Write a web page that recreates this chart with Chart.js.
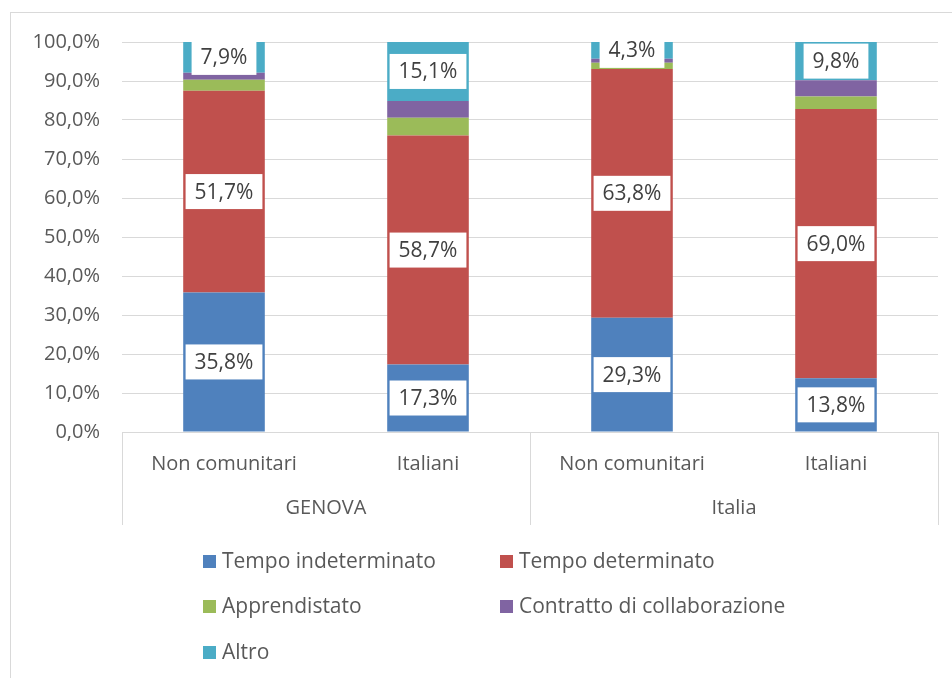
<!DOCTYPE html>
<html>
<head>
<meta charset="utf-8">
<script src="https://cdn.jsdelivr.net/npm/chart.js@4.4.1/dist/chart.umd.min.js"></script>
<style>
  html, body { margin: 0; padding: 0; background: #fff; }
  #wrap { position: relative; width: 952px; height: 678px; overflow: hidden; }
  #frame { position: absolute; left: 10px; top: 12px; width: 960px; height: 700px;
           border-left: 1px solid #d9d9d9; border-top: 1px solid #d9d9d9; }
  #legend { position: absolute; left: 0; top: 0; font-family: "Open Sans", sans-serif;
            font-size: 21px; color: #595959; }
  .item { position: absolute; white-space: nowrap; line-height: 22px; }
  .item span.box { display: inline-block; width: 13px; height: 13px; margin-right: 6px; vertical-align: 0px; }
</style>
</head>
<body>
<div id="wrap">
  <div id="frame"></div>
  <canvas id="chart" width="952" height="678"></canvas>
  <div id="legend"></div>
</div>
<script>
// Dati
var categorie = ['Non comunitari', 'Italiani', 'Non comunitari', 'Italiani'];
var gruppi = ['GENOVA', 'Italia'];
var indeterminato = [35.8, 17.3, 29.3, 13.8];
var determinato = [51.7, 58.7, 63.8, 69.0];
var apprendistato = [2.8, 4.6, 1.6, 3.2];
var collaborazione = [1.8, 4.3, 1.0, 4.2];
var altro = [7.9, 15.1, 4.3, 9.8];

var fontFam = '"Open Sans", sans-serif';
var grigio = '#595959';

function pct(v) {
    return v.toFixed(1).replace('.', ',') + '%';
}

// etichette con riquadro bianco
var etichette = {
    id: 'etichette',
    afterDatasetsDraw: function(chart) {
        var ctx = chart.ctx;
        ctx.save();
        ctx.font = '21px ' + fontFam;
        ctx.textAlign = 'center';
        ctx.textBaseline = 'middle';
        chart.data.datasets.forEach(function(ds, i) {
            if (!ds.showLabel) return;
            chart.getDatasetMeta(i).data.forEach(function(bar, j) {
                var txt = pct(ds.data[j]);
                var w = ctx.measureText(txt).width + 18;
                var h = 35;
                var cy = (bar.y + bar.base) / 2;
                ctx.fillStyle = '#fff';
                ctx.fillRect(bar.x - w / 2, cy - h / 2, w, h);
                ctx.fillStyle = '#404040';
                ctx.fillText(txt, bar.x, cy + 1);
            });
        });
        ctx.restore();
    }
};

// asse categorie a due livelli
var gruppiAsse = {
    id: 'gruppiAsse',
    afterDraw: function(chart) {
        var ctx = chart.ctx;
        var area = chart.chartArea;
        var x = chart.scales.x;
        var fondo = area.bottom + 93;
        ctx.save();
        ctx.strokeStyle = '#d9d9d9';
        ctx.lineWidth = 1;
        var bordi = [area.left, (area.left + area.right) / 2, area.right];
        ctx.beginPath();
        bordi.forEach(function(bx) {
            var px = Math.round(bx) + 0.5;
            ctx.moveTo(px, area.bottom);
            ctx.lineTo(px, fondo);
        });
        ctx.stroke();
        ctx.font = '20px ' + fontFam;
        ctx.fillStyle = grigio;
        ctx.textAlign = 'center';
        ctx.textBaseline = 'middle';
        gruppi.forEach(function(g, k) {
            var cx = (x.getPixelForValue(k * 2) + x.getPixelForValue(k * 2 + 1)) / 2;
            ctx.fillText(g, cx, area.bottom + 76);
        });
        ctx.restore();
    }
};

var ctx1 = document.getElementById('chart').getContext('2d');
var grafico = new Chart(ctx1, {
    type: 'bar',
    data: {
        labels: categorie,
        datasets: [
            { label: 'Tempo indeterminato', data: indeterminato, backgroundColor: '#4F81BD', showLabel: true },
            { label: 'Tempo determinato', data: determinato, backgroundColor: '#C0504D', showLabel: true },
            { label: 'Apprendistato', data: apprendistato, backgroundColor: '#9BBB59' },
            { label: 'Contratto di collaborazione', data: collaborazione, backgroundColor: '#8064A2' },
            { label: 'Altro', data: altro, backgroundColor: '#4BACC6', showLabel: true }
        ]
    },
    options: {
        responsive: false,
        animation: false,
        barPercentage: 0.4,
        categoryPercentage: 1,
        layout: { padding: { left: 10, right: 14, top: 42, bottom: 146 } },
        plugins: {
            legend: { display: false },
            tooltip: { enabled: false }
        },
        scales: {
            x: {
                stacked: true,
                grid: { display: false, drawTicks: false },
                border: { display: true, color: '#d9d9d9' },
                ticks: { color: grigio, font: { family: fontFam, size: 20 }, padding: 20, maxRotation: 0 },
                afterFit: function(s) { s.height = 100; }
            },
            y: {
                stacked: true,
                min: 0,
                max: 100,
                grid: { color: '#d9d9d9', drawTicks: false },
                border: { display: false },
                ticks: {
                    stepSize: 10,
                    padding: 22,
                    color: grigio,
                    font: { family: fontFam, size: 20 },
                    callback: function(v) { return pct(v); }
                },
                afterFit: function(s) { s.width = 112; }
            }
        }
    },
    plugins: [etichette, gruppiAsse]
});

// legenda HTML su due colonne
var posizioni = [[203, 549], [500, 549], [203, 594], [500, 594], [203, 640]];
var leg = document.getElementById('legend');
grafico.data.datasets.forEach(function(ds, i) {
    var d = document.createElement('div');
    d.className = 'item';
    d.style.left = posizioni[i][0] + 'px';
    d.style.top = posizioni[i][1] + 'px';
    d.innerHTML = '<span class="box" style="background:' + ds.backgroundColor + '"></span>' + ds.label;
    leg.appendChild(d);
});
</script>
</body>
</html>
